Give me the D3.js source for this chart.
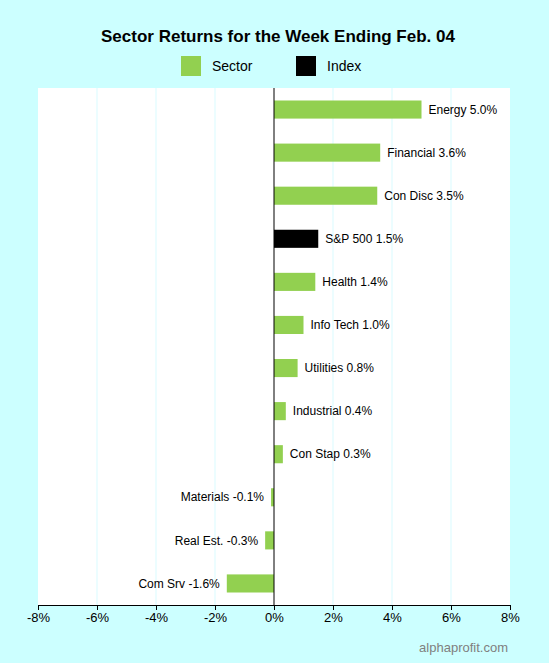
<!DOCTYPE html>
<html><head><meta charset="utf-8">
<script src="https://cdn.jsdelivr.net/npm/d3@7"></script>
<style>body{margin:0;background:#ccffff;}</style>
</head><body><svg id="c" width="549" height="663"></svg>
<script>
const categories=["Energy","Financial","Con Disc","S&P 500","Health","Info Tech","Utilities","Industrial","Con Stap","Materials","Real Est.","Com Srv"];
const values=[5.0,3.6,3.5,1.5,1.4,1.0,0.8,0.4,0.3,-0.1,-0.3,-1.6];
const kinds=["Sector","Sector","Sector","Index","Sector","Sector","Sector","Sector","Sector","Sector","Sector","Sector"];
const tickValues=[-8,-6,-4,-2,0,2,4,6,8];
const colors={Sector:"#92d050",Index:"#000000"};
const svg=d3.select("#c");
const font="Arial, 'Liberation Sans', sans-serif";
svg.append("rect").attr("width",549).attr("height",663).attr("fill","#ccffff");
const L=38,R=510,T=88,B=605;
svg.append("rect").attr("x",L).attr("y",T).attr("width",R-L).attr("height",B-T).attr("fill","#fff");
const x=d3.scaleLinear().domain([-8,8]).range([L,R]);
const y=d3.scaleBand().domain(categories).range([T,B]).paddingInner(0.58).paddingOuter(0.29);
svg.selectAll(".g").data(tickValues.filter(v=>v!==0&&v!==-8&&v!==8)).enter().append("line")
 .attr("x1",d=>x(d)).attr("x2",d=>x(d)).attr("y1",T).attr("y2",B).attr("stroke","#d9fbff");
svg.selectAll(".b").data(categories).enter().append("rect")
 .attr("x",(d,i)=>x(Math.min(0,values[i]))).attr("width",(d,i)=>Math.abs(x(values[i])-x(0)))
 .attr("y",d=>y(d)).attr("height",y.bandwidth()).attr("fill",(d,i)=>colors[kinds[i]]);
svg.selectAll(".l").data(categories).enter().append("text")
 .attr("x",(d,i)=>values[i]>=0?x(values[i])+7:x(values[i])-7)
 .attr("y",d=>y(d)+y.bandwidth()/2).attr("dy","0.35em")
 .attr("text-anchor",(d,i)=>values[i]>=0?"start":"end")
 .attr("font-family",font).attr("font-size",12).attr("fill","#000")
 .text((d,i)=>d+" "+values[i].toFixed(1)+"%");
svg.append("line").attr("x1",x(0)).attr("x2",x(0)).attr("y1",T).attr("y2",B).attr("stroke","#000");
const ax=svg.append("g").attr("transform",`translate(0,${B})`)
 .call(d3.axisBottom(x).tickValues(tickValues).tickSize(5).tickFormat(d=>d+"%"));
ax.selectAll("text").attr("font-family",font).attr("font-size",13).attr("fill","#000");
ax.select(".domain").attr("stroke","#000");
svg.append("text").attr("x",278).attr("y",42).attr("text-anchor","middle")
 .attr("font-family",font).attr("font-weight","bold").attr("font-size",17).text("Sector Returns for the Week Ending Feb. 04");
const leg=[["Sector",181],["Index",296]];
leg.forEach(([k,lx])=>{
 svg.append("rect").attr("x",lx).attr("y",56).attr("width",20).attr("height",20).attr("fill",colors[k]);
 svg.append("text").attr("x",lx+31).attr("y",71).attr("font-family",font).attr("font-size",14).text(k);
});
svg.append("text").attr("x",508).attr("y",652).attr("text-anchor","end")
 .attr("font-family",font).attr("font-size",13).attr("fill","#808080").text("alphaprofit.com");
</script></body></html>
